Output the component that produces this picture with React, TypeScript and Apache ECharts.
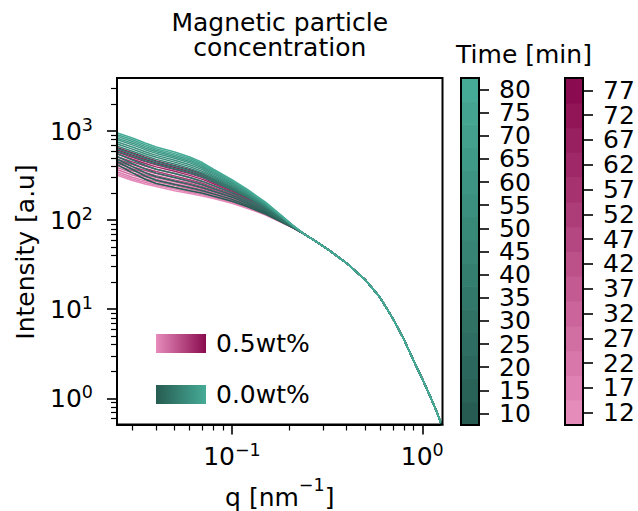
import React, { useEffect, useRef } from 'react';
import * as echarts from 'echarts';

const FONT = 'DejaVu Sans';
const FS = 25;

// q grid (nm^-1): low-q part differs per curve, high-q part is common to all curves
const qLow = [0.0248, 0.03, 0.035, 0.04, 0.05, 0.06, 0.07, 0.08, 0.1, 0.12, 0.15, 0.18, 0.21];
const qHigh = [0.24, 0.28, 0.33, 0.4, 0.5, 0.6, 0.7, 0.8, 0.9, 1.0, 1.1, 1.2, 1.28];
const intensityHigh = [69.6, 56.6, 44.5, 33, 21.5, 13.5, 7.9, 4.6, 2.65, 1.65, 1.05, 0.68, 0.46];

// 0.0wt% (teal), time in minutes
const tealTimes = [10, 15, 20, 25, 30, 35, 40, 45, 50, 55, 60, 65, 70, 75, 80];
const tealLow = [
  [422, 339, 288, 258, 232, 214, 200, 185, 163, 142, 117, 96.6, 81.7],
  [455, 370, 313, 280, 251, 231, 214, 197, 171, 148, 121, 97.7, 82.0],
  [486, 399, 341, 307, 275, 252, 231, 211, 181, 154, 125, 99.1, 82.4],
  [519, 432, 376, 337, 301, 274, 250, 226, 191, 161, 129, 101, 82.8],
  [560, 471, 413, 372, 333, 301, 272, 244, 203, 169, 134, 102, 83.2],
  [598, 520, 465, 426, 378, 340, 305, 270, 219, 180, 138, 106, 84.3],
  [638, 556, 494, 453, 402, 360, 321, 282, 228, 186, 141, 107.4, 84.7],
  [682, 593, 527, 481, 427, 381, 338, 295, 236, 191, 144, 108.6, 84.9],
  [721, 627, 556, 507, 448, 399, 353, 307, 243, 196, 146, 109.6, 85.3],
  [760, 662, 586, 533, 471, 419, 369, 318, 251, 201, 148, 110.7, 85.5],
  [804, 700, 618, 561, 495, 439, 385, 331, 259, 206, 151, 111.9, 85.9],
  [839, 731, 646, 585, 515, 456, 399, 341, 265, 210, 153, 112.7, 86.1],
  [877, 764, 673, 608, 536, 473, 413, 352, 272, 214, 155, 113.5, 86.3],
  [916, 798, 703, 634, 558, 492, 428, 363, 278, 218, 157, 114.5, 86.5],
  [957, 834, 733, 661, 581, 511, 443, 374, 285, 223, 159, 115, 86.7],
];

// 0.5wt% (pink), time in minutes
const pinkTimes = [12, 17, 22, 27, 32, 37, 42, 47, 52, 57, 62, 67, 72, 77];
const pinkLow = [
  [321, 278, 254, 238, 214, 199, 186, 175, 155, 136, 114, 95.1, 81.3],
  [335, 290, 264, 248, 223, 206, 193, 180, 159, 139, 116, 95.7, 81.5],
  [350, 303, 276, 258, 232, 214, 200, 185, 163, 142, 117, 96.4, 81.7],
  [370, 321, 291, 272, 244, 224, 208, 193, 168, 146, 119, 97.0, 81.8],
  [391, 339, 307, 286, 256, 236, 218, 200, 173, 149, 122, 98.0, 82.0],
  [412, 358, 324, 301, 270, 247, 227, 208, 179, 153, 124, 98.9, 82.2],
  [436, 378, 341, 316, 283, 259, 237, 216, 184, 157, 126, 99.5, 82.4],
  [460, 399, 360, 333, 298, 271, 248, 224, 190, 160, 129, 100.5, 82.8],
  [486, 422, 379, 351, 313, 284, 259, 233, 195, 164, 131, 101, 83.0],
  [519, 451, 405, 372, 333, 301, 272, 244, 203, 169, 134, 102, 83.2],
  [555, 482, 432, 396, 353, 318, 287, 256, 210, 175, 137, 104, 83.6],
  [585, 508, 455, 417, 371, 334, 300, 266, 217, 179, 140, 104, 83.8],
  [618, 537, 480, 439, 390, 350, 313, 276, 223, 183, 143, 105, 83.9],
  [653, 568, 506, 462, 409, 367, 327, 286, 231, 188, 145, 106, 84.1],
];

const xMajor = [0.1, 1];
const xMinor = [0.03, 0.04, 0.05, 0.06, 0.07, 0.08, 0.09, 0.2, 0.3, 0.4, 0.5, 0.6, 0.7, 0.8, 0.9];
const yMajor = [1, 10, 100, 1000];
const yMinor = [0.6, 0.7, 0.8, 0.9, 2, 3, 4, 5, 6, 7, 8, 9, 20, 30, 40, 50, 60, 70, 80, 90,
  200, 300, 400, 500, 600, 700, 800, 900, 2000, 3000];

const TEAL_DARK = [0x27, 0x5c, 0x52];
const TEAL_LIGHT = [0x46, 0xab, 0x96];
const PINK_LIGHT = [0xe6, 0x8c, 0xbb];
const PINK_DARK = [0x8a, 0x0b, 0x4f];

const mix = (a: number[], b: number[], t: number) =>
  '#' + a.map((v, k) => Math.round(v + (b[k] - v) * t).toString(16).padStart(2, '0')).join('');

const tealColors = tealTimes.map((_, i) => mix(TEAL_DARK, TEAL_LIGHT, i / (tealTimes.length - 1)));
const pinkColors = pinkTimes.map((_, i) => mix(PINK_LIGHT, PINK_DARK, i / (pinkTimes.length - 1)));

const powLabel = (v: number) => {
  const e = Math.round(Math.log10(v));
  return `{b|10}{s|${e < 0 ? '\u2212' : ''}${Math.abs(e)}}`;
};
const powRich = {
  b: { fontSize: FS, lineHeight: 31, fontFamily: FONT, color: '#000' },
  s: { fontSize: 17.5, lineHeight: 17, verticalAlign: 'top', fontFamily: FONT, color: '#000' },
};

const makeLine = (name: string, low: number[], color: string) => ({
  type: 'line',
  name,
  xAxisIndex: 0,
  yAxisIndex: 0,
  symbol: 'none',
  showSymbol: false,
  silent: true,
  data: [
    ...qLow.map((q, j) => [q, low[j]]),
    ...qHigh.map((q, j) => [q, intensityHigh[j]]),
  ],
  lineStyle: { color, width: 1.5 },
  itemStyle: { color },
});

const colorbarSeries = (axisIdx: number, times: number[], colors: string[], lo: number, hi: number) => ({
  type: 'custom',
  xAxisIndex: axisIdx,
  yAxisIndex: axisIdx,
  silent: true,
  clip: false,
  z: 1,
  encode: { x: 0, y: 1 },
  data: times.map((t, i) => [0.5, t, i]),
  renderItem: (params: any, api: any) => {
    const t = api.value(1);
    const idx = api.value(2);
    const a = api.coord([0, t - 2.5]);
    const b = api.coord([1, t + 2.5]);
    const children: any[] = [
      {
        type: 'rect',
        shape: { x: a[0], y: b[1], width: b[0] - a[0], height: a[1] - b[1] + 0.6 },
        style: { fill: colors[idx] },
      },
    ];
    if (params.dataIndex === times.length - 1) {
      const p0 = api.coord([0, lo]);
      const p1 = api.coord([1, hi]);
      children.push({
        type: 'rect',
        z2: 10,
        shape: { x: p0[0], y: p1[1], width: p1[0] - p0[0], height: p0[1] - p1[1] },
        style: { fill: 'none', stroke: '#000', lineWidth: 2 },
      });
    }
    return { type: 'group', children };
  },
});

const tickLine = { color: '#000', width: 1.6 };
const minorLine = { color: '#000', width: 1.2 };
const labelBase = { fontSize: FS, fontFamily: FONT, color: '#000' };

function buildOption() {
  const series: any[] = [];
  pinkLow.forEach((row, i) => series.push(makeLine('0.5wt%', row, pinkColors[i])));
  tealLow.forEach((row, i) => series.push(makeLine('0.0wt%', row, tealColors[i])));
  series.push(colorbarSeries(2, tealTimes, tealColors, 7.5, 82.5));
  series.push(colorbarSeries(3, pinkTimes, pinkColors, 9.5, 79.5));

  const X_MIN = 0.0249, X_MAX = 1.277, Y_MIN = 0.508, Y_MAX = 3940;

  // colorbar axis: the bar ends (lo, hi) carry blank placeholder labels so that
  // ECharts' min/max overlap check drops the placeholders, not real time labels
  const cbAxis = (times: number[], lo: number, hi: number, grid: number) => {
    const vals = [lo, ...times, hi];
    return {
      type: 'value', gridIndex: grid, min: lo, max: hi, position: 'right',
      axisLine: { show: true, onZero: false, lineStyle: { color: '#000', width: 2 } },
      axisTick: { show: true, inside: false, length: 10, lineStyle: tickLine, customValues: vals },
      axisLabel: {
        customValues: vals, margin: 20, hideOverlap: false,
        formatter: (v: number) => (v === lo || v === hi ? '{t|  }' : `{t|${v}}`),
        rich: { t: { fontSize: FS, lineHeight: 18, fontFamily: FONT, color: '#000' } },
      },
      splitLine: { show: false },
    };
  };

  return {
    animation: false,
    textStyle: { fontFamily: FONT },
    grid: [
      { left: 117, top: 78, width: 325.5, height: 346.5, show: true, borderColor: '#000', borderWidth: 2,
        backgroundColor: 'transparent', z: 5, containLabel: false, outerBoundsMode: 'none' },
      { left: 461, top: 78, width: 18, height: 347, containLabel: false, outerBoundsMode: 'none' },
      { left: 565, top: 78, width: 18, height: 347, containLabel: false, outerBoundsMode: 'none' },
    ],
    xAxis: [
      { type: 'log', gridIndex: 0, min: X_MIN, max: X_MAX, position: 'bottom',
        axisLine: { show: true, onZero: false, lineStyle: { color: '#000', width: 2 } },
        axisTick: { show: true, length: 10, lineStyle: tickLine, customValues: xMajor },
        axisLabel: { customValues: xMajor, formatter: powLabel, rich: powRich, margin: 16 },
        splitLine: { show: false }, minorTick: { show: false } },
      { type: 'log', gridIndex: 0, min: X_MIN, max: X_MAX, position: 'bottom',
        axisLine: { show: false, onZero: false },
        axisTick: { show: true, length: 6, lineStyle: minorLine, customValues: xMinor },
        axisLabel: { show: false }, splitLine: { show: false } },
      { type: 'value', gridIndex: 1, min: 0, max: 1, show: false, axisLine: { onZero: false } },
      { type: 'value', gridIndex: 2, min: 0, max: 1, show: false, axisLine: { onZero: false } },
    ],
    yAxis: [
      { type: 'log', gridIndex: 0, min: Y_MIN, max: Y_MAX, position: 'left',
        axisLine: { show: true, onZero: false, lineStyle: { color: '#000', width: 2 } },
        axisTick: { show: true, length: 10, lineStyle: tickLine, customValues: yMajor },
        axisLabel: { customValues: yMajor, formatter: powLabel, rich: powRich, margin: 24 },
        splitLine: { show: false } },
      { type: 'log', gridIndex: 0, min: Y_MIN, max: Y_MAX, position: 'left',
        axisLine: { show: false, onZero: false },
        axisTick: { show: true, length: 6, lineStyle: minorLine, customValues: yMinor },
        axisLabel: { show: false }, splitLine: { show: false } },
      cbAxis(tealTimes, 7.5, 82.5, 1),
      cbAxis(pinkTimes, 9.5, 79.5, 2),
    ],
    legend: {
      orient: 'vertical', left: 156, top: 331, padding: 0, itemWidth: 50, itemHeight: 19, itemGap: 26,
      icon: 'rect', selectedMode: false,
      itemStyle: { borderWidth: 0 },
      textStyle: { ...labelBase, lineHeight: 19, padding: [0, 0, 0, 5] },
      data: [
        { name: '0.5wt%', icon: 'rect', itemStyle: { borderWidth: 0, color: { type: 'linear', x: 0, y: 0, x2: 1, y2: 0,
          colorStops: [{ offset: 0, color: pinkColors[0] }, { offset: 1, color: pinkColors[pinkColors.length - 1] }] } } },
        { name: '0.0wt%', icon: 'rect', itemStyle: { borderWidth: 0, color: { type: 'linear', x: 0, y: 0, x2: 1, y2: 0,
          colorStops: [{ offset: 0, color: tealColors[0] }, { offset: 1, color: tealColors[tealColors.length - 1] }] } } },
      ],
    },
    graphic: [
      { type: 'text', x: 279.75, y: 10, silent: true,
        style: { text: 'Magnetic particle\nconcentration', fontSize: FS, fontFamily: FONT, fill: '#000',
          align: 'center', verticalAlign: 'top', lineHeight: 25 } },
      { type: 'text', x: 524, y: 54, silent: true,
        style: { text: 'Time [min]', fontSize: FS, fontFamily: FONT, fill: '#000', align: 'center', verticalAlign: 'middle' } },
      { type: 'text', x: 25, y: 252, rotation: Math.PI / 2, silent: true,
        style: { text: 'Intensity [a.u]', fontSize: FS, fontFamily: FONT, fill: '#000', align: 'center', verticalAlign: 'middle' } },
      { type: 'text', x: 279.75, y: 497.5, silent: true,
        style: { text: '{b|q [nm}{s|\u22121}{b|]}', align: 'center', verticalAlign: 'middle',
          rich: {
            b: { fontSize: FS, lineHeight: 44, fontFamily: FONT, fill: '#000' },
            s: { fontSize: 17.5, lineHeight: 17, verticalAlign: 'top', fontFamily: FONT, fill: '#000' },
          } } },
    ],
    series,
  };
}

export default function App() {
  const ref = useRef<HTMLDivElement>(null);
  useEffect(() => {
    if (!ref.current) return;
    const chart = echarts.init(ref.current, null, { renderer: 'svg' });
    chart.setOption(buildOption() as any);
    return () => chart.dispose();
  }, []);
  return <div ref={ref} style={{ position: 'fixed', left: 0, top: 0, width: 638, height: 511, background: '#fff' }} />;
}
